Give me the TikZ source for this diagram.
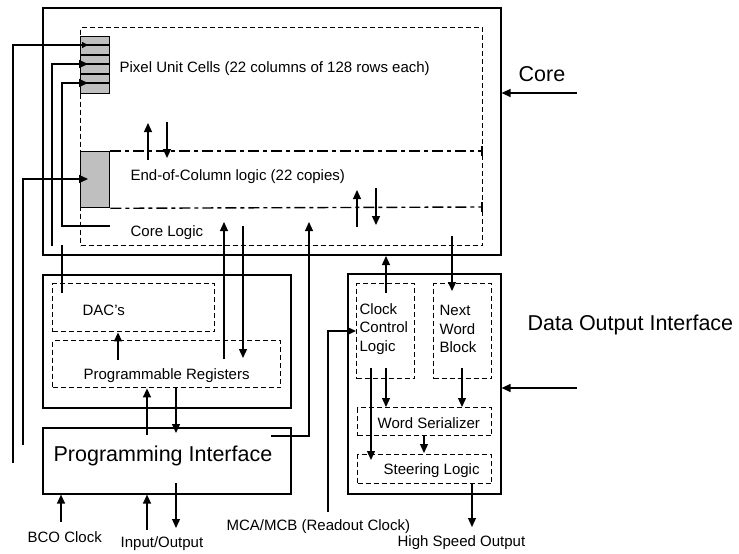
\documentclass[tikz,border=0pt]{standalone}
\usepackage{fontspec}
\setmainfont{Liberation Sans}
\usetikzlibrary{arrows.meta,calc}
\newcommand\mybox[6]{\node[#1,anchor=north west,inner sep=0pt,minimum width=#5pt,minimum height=#6pt] (#2) at (#3,#4) {};}
\begin{document}
\begin{tikzpicture}[x=1pt,y=-1pt,line width=1.3pt,
  solidbox/.style={draw,line width=1.6pt},
  dbox/.style={draw,line width=1.4pt,dash pattern=on 5pt off 3pt},
  hatch/.style={draw,line width=1.3pt,fill=black!25},
  dd/.style={line width=1.4pt,dash pattern=on 11pt off 4pt on 4pt off 4pt},
  arr/.style={-{Triangle[length=9pt,width=8pt]}},
  sarr/.style={-{Triangle[length=6pt,width=6pt]}},
  lbl/.style={inner sep=0pt,anchor=west,font=\fontsize{15}{18.5}\selectfont},
  big/.style={inner sep=0pt,anchor=west,font=\fontsize{21.5}{24}\selectfont}]
\path[use as bounding box] (0,0) rectangle (739,554);
% boxes
\mybox{solidbox}{core}{42}{7}{458}{247}
\mybox{dbox}{cored}{80}{27}{402}{218}
\mybox{hatch}{pix}{80}{36}{29}{57}
\mybox{hatch}{eoc}{80}{151}{29}{56}
\mybox{solidbox}{cfg}{42}{274}{248}{133}
\mybox{dbox}{dac}{52}{283}{162}{48}
\mybox{dbox}{preg}{52}{340}{228}{47}
\mybox{solidbox}{pi}{42}{427}{248}{66}
\mybox{solidbox}{dout}{347}{273}{153}{220}
\mybox{dbox}{ccl}{356}{283}{58}{95}
\mybox{dbox}{nwb}{433}{283}{58}{95}
\mybox{dbox}{ws}{357}{407}{134}{28}
\mybox{dbox}{sl}{357}{454}{134}{29}
% pixel rows
\foreach \yy in {45,55,64,74,83} \draw (pix.west |- 0,\yy) -- (pix.east |- 0,\yy);
% EOC dash-dot lines
\coordinate (eocTR) at (482,151);
\coordinate (eocBR) at (482,207);
\draw[dd] (eoc.north east) -- (eocTR);
\draw[dd] (eoc.south east) -- (eocBR);
\draw ([yshift=-5pt]eocTR) -- ([yshift=5pt]eocTR);
\draw ([yshift=-5pt]eocBR) -- ([yshift=5pt]eocBR);
% texts
\node[lbl] (tpix) at (119,69) {Pixel Unit Cells (22 columns of 128 rows each)};
\node[lbl] (teoc) at (130,177) {End-of-Column logic (22 copies)};
\node[lbl] (tcl) at (130,233) {Core Logic};
\node[big] (tcore) at (518,74) {Core};
\node[lbl] (tdac) at (82,310) {DAC's};
\node[lbl] (tpreg) at (83,376) {Programmable Registers};
\node[big] (tpi) at (53,456) {Programming Interface};
\node[lbl] (tbco) at (27,537) {BCO Clock};
\node[lbl] (tio) at (120,544) {Input/Output};
\node[lbl] (tmca) at (226,527) {MCA/MCB (Readout Clock)};
\node[lbl] (thso) at (397,543) {High Speed Output};
\node[big] (tdoi) at (527,325) {Data Output Interface};
\node[lbl,align=left] (tccl) at (359,329) {Clock\\Control\\Logic};
\node[lbl,align=left] (tnwb) at (439,329) {Next\\Word\\Block};
\node[lbl] (tws) at (377,423) {Word Serializer};
\node[lbl] (tsl) at (383,471) {Steering Logic};
% connector coordinates
\coordinate (p1s) at (13,463);  \coordinate (p1e) at (88,45);
\coordinate (p2s) at (52,246);  \coordinate (p2e) at (88,64);
\coordinate (p3s) at (110,226); \coordinate (p3m) at (62,226); \coordinate (p3e) at (88,83);
\coordinate (p4s) at (23,445);  \coordinate (p4e) at (88,179);
\coordinate (d1) at (62,245);   \coordinate (d2) at (62,293);
\coordinate (pe1) at (148,160); \coordinate (pe2) at (148,123);
\coordinate (pe3) at (167,122); \coordinate (pe4) at (167,158);
\coordinate (ec1) at (357,227); \coordinate (ec2) at (357,190);
\coordinate (ec3) at (376,188); \coordinate (ec4) at (376,225);
\coordinate (r1) at (118,360);
\coordinate (r2) at (224,359);  \coordinate (r3) at (224,222);
\coordinate (r4) at (243,226);  \coordinate (r5) at (243,358);
\coordinate (m1) at (271,436);  \coordinate (m2) at (309,222);
\coordinate (q1) at (147,435);  \coordinate (q2) at (176,388); \coordinate (q3) at (176,433);
\coordinate (b1) at (61,522);   \coordinate (b2) at (147,530);
\coordinate (b3) at (176,483);  \coordinate (b4) at (176,528);
\coordinate (c1) at (386,293);  \coordinate (c2) at (386,256);
\coordinate (n1) at (452,236);  \coordinate (n2) at (452,291);
\coordinate (c3) at (386,368);  \coordinate (n3) at (462,368);
\coordinate (w1) at (424,435);  \coordinate (w2) at (424,453);
\coordinate (c4) at (371,368);  \coordinate (c5) at (371,460);
\coordinate (h1) at (472,483);  \coordinate (h2) at (472,527);
\coordinate (k1) at (328,512);  \coordinate (k2) at (328,331);
\coordinate (e1) at (577,93);   \coordinate (e2) at (577,388);
% connectors
\draw[sarr] (p1s) |- (p1e);
\draw[arr] (p2s) |- (p2e);
\draw[arr] (p3s) -- (p3m) |- (p3e);
\draw[arr] (p4s) |- (p4e);
\draw (d1) -- (d2);
\draw[arr] (pe1) -- (pe2);
\draw[arr] (pe3) -- (pe4);
\draw[arr] (ec1) -- (ec2);
\draw[arr] (ec3) -- (ec4);
\draw[arr] (r1) -- (r1 |- dac.south);
\draw[arr] (r2) -- (r3);
\draw[arr] (r4) -- (r5);
\draw[arr] (m1) -| (m2);
\draw[arr] (q1) -- (q1 |- preg.south);
\draw[arr] (q2) -- (q3);
\draw[arr] (b1) -- (b1 |- pi.south);
\draw[arr] (b2) -- (b2 |- pi.south);
\draw[arr] (b3) -- (b4);
\draw[arr] (c1) -- (c2);
\draw[arr] (n1) -- (n2);
\draw[arr] (c3) -- (c3 |- ws.north);
\draw[arr] (n3) -- (n3 |- ws.north);
\draw[arr] (w1) -- (w2);
\draw[arr] (c4) -- (c5);
\draw[arr] (h1) -- (h2);
\draw[arr] (k1) -- (k2) -- (k2 -| ccl.west);
\draw[arr] (e1) -- (e1 -| core.east);
\draw[arr] (e2) -- (e2 -| dout.east);
\end{tikzpicture}
\end{document}
